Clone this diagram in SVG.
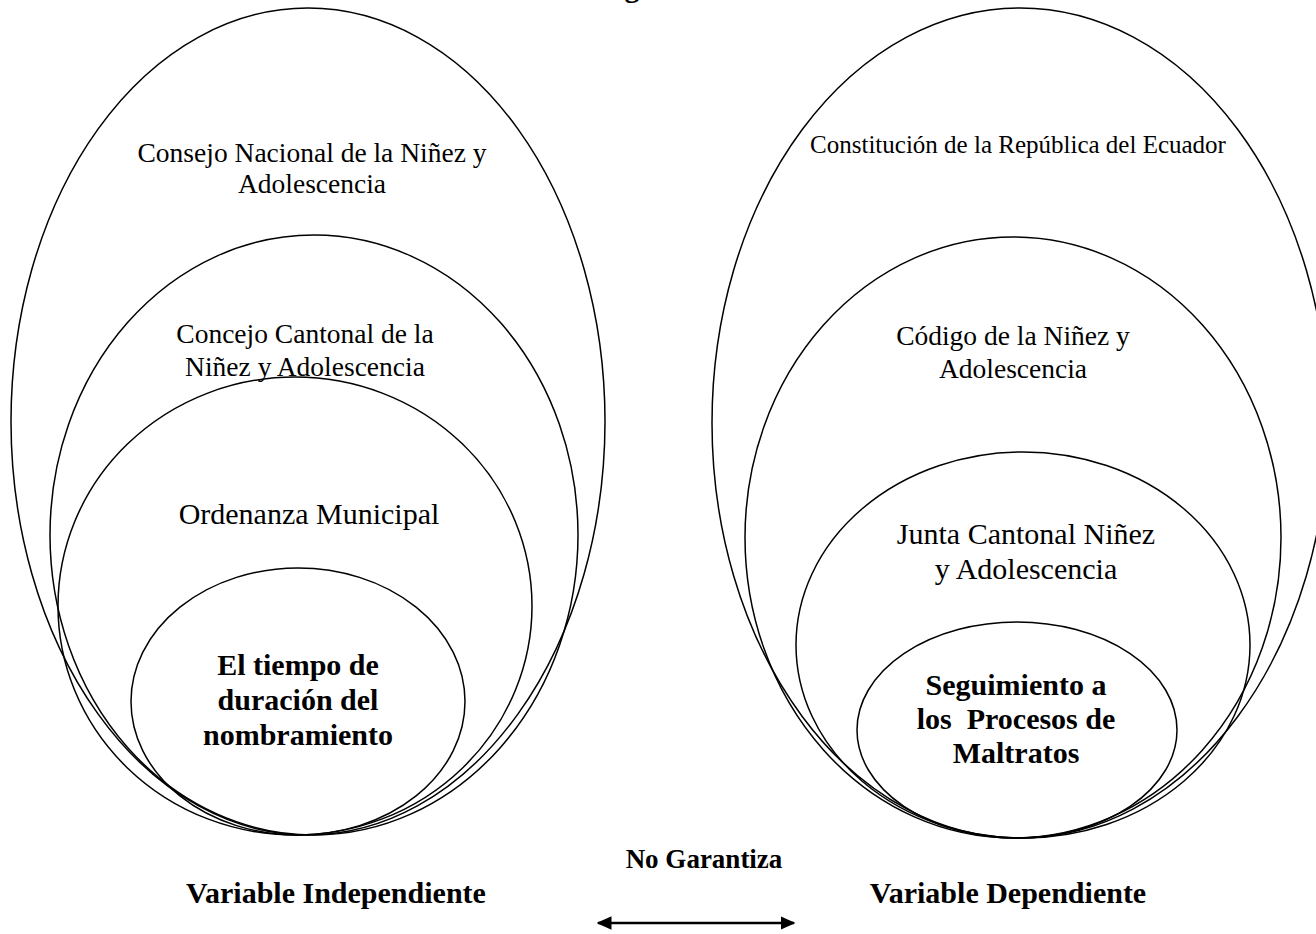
<svg xmlns="http://www.w3.org/2000/svg" width="1316" height="934" viewBox="0 0 1316 934">
<defs>
<style>
.e{fill:none;stroke:#000;stroke-width:1.5}
.t{font-family:"Liberation Serif","Times New Roman",serif;fill:#000;text-anchor:middle}
.n{font-size:27.5px}
.m{font-size:30px}
.b{font-size:30px;font-weight:bold}
.s{font-size:25px}
</style>
<marker id="ah" viewBox="0 0 10 10" refX="9" refY="5" markerWidth="15" markerHeight="15" markerUnits="userSpaceOnUse" orient="auto-start-reverse"><path d="M0,0.5 L10,5 L0,9.5 Z" fill="#000"/></marker>
</defs>
<rect width="1316" height="934" fill="#fff"/>
<text class="t b" x="632" y="-3">g</text>
<g id="left-outer"><ellipse class="e" cx="308" cy="421.5" rx="297" ry="413.5"/><text class="t n"><tspan x="312" y="162">Consejo Nacional de la Niñez y</tspan><tspan x="312" y="193">Adolescencia</tspan></text></g>
<g id="left-second"><ellipse class="e" cx="314" cy="535" rx="264" ry="300"/><text class="t n"><tspan x="305" y="343">Concejo Cantonal de la</tspan><tspan x="305" y="376">Niñez y Adolescencia</tspan></text></g>
<g id="left-third"><ellipse class="e" cx="295" cy="606" rx="237" ry="229"/><text class="t m" x="309" y="524">Ordenanza Municipal</text></g>
<g id="left-inner"><ellipse class="e" cx="298" cy="701.5" rx="167" ry="133.5"/><text class="t b"><tspan x="298" y="675">El tiempo de</tspan><tspan x="298" y="710">duración del</tspan><tspan x="298" y="745">nombramiento</tspan></text></g>
<g id="right-outer"><ellipse class="e" cx="1020" cy="423" rx="308" ry="415"/><text class="t s" x="1018" y="153">Constitución de la República del Ecuador</text></g>
<g id="right-second"><ellipse class="e" cx="1013" cy="537.5" rx="268" ry="300.5"/><text class="t n"><tspan x="1013" y="345">Código de la Niñez y</tspan><tspan x="1013" y="378">Adolescencia</tspan></text></g>
<g id="right-third"><ellipse class="e" cx="1023" cy="645" rx="227" ry="193"/><text class="t m"><tspan x="1026" y="544">Junta Cantonal Niñez</tspan><tspan x="1026" y="579">y Adolescencia</tspan></text></g>
<g id="right-inner"><ellipse class="e" cx="1017" cy="730" rx="160" ry="108"/><text class="t b"><tspan x="1016" y="695">Seguimiento a</tspan><tspan x="1016" y="729" xml:space="preserve">los  Procesos de</tspan><tspan x="1016" y="763">Maltratos</tspan></text></g>
<g id="labels">
<text class="t b" x="336" y="903">Variable Independiente</text>
<text class="t b" x="1008" y="903">Variable Dependiente</text>
<text class="t" style="font-size:27px;font-weight:bold" x="704" y="868">No Garantiza</text>
</g>
<g id="connectors"><line x1="598" y1="923" x2="794" y2="923" stroke="#000" stroke-width="2.5" marker-start="url(#ah)" marker-end="url(#ah)"/></g>
</svg>
